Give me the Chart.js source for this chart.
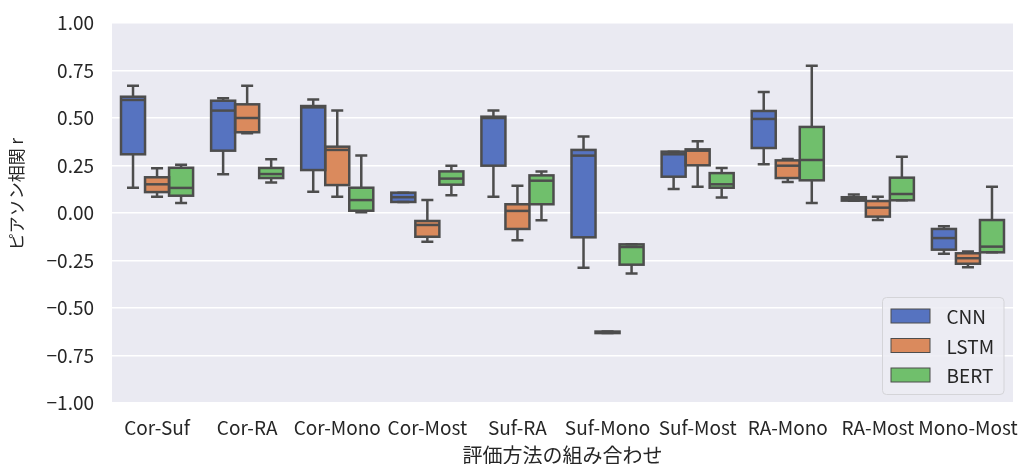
<!DOCTYPE html>
<html>
<head>
<meta charset="utf-8">
<script src="https://cdn.jsdelivr.net/npm/chart.js@4/dist/chart.umd.min.js"></script>
<style>
  html, body { margin: 0; padding: 0; background: #ffffff; }
  canvas { display: block; }
</style>
</head>
<body>
<canvas id="c" width="1022" height="464" style="width:1022px;height:464px"></canvas>
<script>
// Pairs of evaluation methods on the x axis
const categories = ['Cor-Suf', 'Cor-RA', 'Cor-Mono', 'Cor-Most', 'Suf-RA', 'Suf-Mono', 'Suf-Most', 'RA-Mono', 'RA-Most', 'Mono-Most'];
const seriesNames = ['CNN', 'LSTM', 'BERT'];

// Five-number summaries per pair: [min, q1, median, q3, max]
const cnn = [
  [0.133, 0.309, 0.595, 0.612, 0.670],
  [0.204, 0.328, 0.539, 0.591, 0.604],
  [0.112, 0.226, 0.556, 0.563, 0.598],
  [0.058, 0.058, 0.083, 0.107, 0.107],
  [0.086, 0.249, 0.500, 0.507, 0.539],
  [-0.288, -0.128, 0.302, 0.332, 0.402],
  [0.126, 0.191, 0.309, 0.323, 0.323],
  [0.256, 0.342, 0.495, 0.537, 0.637],
  [0.065, 0.065, 0.074, 0.083, 0.097],
  [-0.214, -0.193, -0.132, -0.084, -0.070]
];
const lstm = [
  [0.086, 0.110, 0.151, 0.188, 0.235],
  [0.420, 0.425, 0.500, 0.572, 0.670],
  [0.086, 0.147, 0.332, 0.349, 0.539],
  [-0.151, -0.125, -0.063, -0.042, 0.068],
  [-0.144, -0.084, 0.011, 0.046, 0.144],
  [-0.632, -0.632, -0.628, -0.624, -0.624],
  [0.138, 0.251, 0.328, 0.335, 0.377],
  [0.163, 0.184, 0.249, 0.277, 0.284],
  [-0.037, -0.019, 0.028, 0.063, 0.086],
  [-0.286, -0.267, -0.238, -0.212, -0.202]
];
const bert = [
  [0.053, 0.091, 0.132, 0.238, 0.254],
  [0.160, 0.184, 0.205, 0.237, 0.283],
  [0.004, 0.012, 0.068, 0.133, 0.302],
  [0.093, 0.149, 0.181, 0.219, 0.249],
  [-0.038, 0.046, 0.170, 0.198, 0.218],
  [-0.319, -0.272, -0.179, -0.165, -0.165],
  [0.081, 0.133, 0.151, 0.210, 0.237],
  [0.053, 0.172, 0.279, 0.453, 0.775],
  [0.067, 0.067, 0.100, 0.186, 0.296],
  [-0.207, -0.207, -0.177, -0.037, 0.138]
];

const yTitle = 'ピアソン相関 r';
const xTitle = '評価方法の組み合わせ';

const seriesColors = ['#5673c0', '#da8a5d', '#70bf6c'];
const lineColor = '#4d4d4d';
const textColor = '#262626';
const fontFamily = "'Noto Sans CJK JP', 'Noto Sans', sans-serif";
const summaries = [cnn, lstm, bert];

// Boxes are floating bars from q1 to q3; whiskers, caps, outlines and medians are added by a plugin
const datasets = seriesNames.map((name, i) => ({
  label: name,
  data: summaries[i].map(s => [s[1], s[3]]),
  stats: summaries[i],
  backgroundColor: seriesColors[i],
  borderWidth: 0,
  categoryPercentage: 0.8,
  barPercentage: 1.0
}));

const plotBackground = {
  id: 'plotBackground',
  beforeDraw(chart) {
    const { ctx, chartArea: a } = chart;
    ctx.save();
    ctx.fillStyle = '#eaeaf2';
    ctx.fillRect(a.left, a.top, a.right - a.left, a.bottom - a.top);
    ctx.restore();
  }
};

const boxWhiskers = {
  id: 'boxWhiskers',
  afterDatasetsDraw(chart) {
    const { ctx } = chart;
    const ys = chart.scales.y;
    ctx.save();
    ctx.strokeStyle = lineColor;
    ctx.lineWidth = 2.5;
    ctx.lineCap = 'butt';
    chart.data.datasets.forEach((ds, di) => {
      const meta = chart.getDatasetMeta(di);
      meta.data.forEach((bar, j) => {
        const [mn, q1, med, q3, mx] = ds.stats[j];
        const x = bar.x;
        const w = bar.width;
        const yMin = ys.getPixelForValue(mn);
        const yQ1 = ys.getPixelForValue(q1);
        const yMed = ys.getPixelForValue(med);
        const yQ3 = ys.getPixelForValue(q3);
        const yMax = ys.getPixelForValue(mx);
        ctx.beginPath();
        // whiskers
        ctx.moveTo(x, yQ3); ctx.lineTo(x, yMax);
        ctx.moveTo(x, yQ1); ctx.lineTo(x, yMin);
        // caps
        ctx.moveTo(x - w / 4, yMax); ctx.lineTo(x + w / 4, yMax);
        ctx.moveTo(x - w / 4, yMin); ctx.lineTo(x + w / 4, yMin);
        ctx.stroke();
        // box outline
        ctx.strokeRect(x - w / 2, yQ3, w, yQ1 - yQ3);
        // median
        ctx.beginPath();
        ctx.moveTo(x - w / 2, yMed); ctx.lineTo(x + w / 2, yMed);
        ctx.stroke();
      });
    });
    ctx.restore();
  }
};

// Legend in the lower-right corner of the plot, plus the rotated y-axis title
const boxLegend = {
  id: 'boxLegend',
  afterDraw(chart) {
    const { ctx, chartArea: a } = chart;
    const x0 = a.right - 130.5, y0 = a.bottom - 105.5, w = 121.5, h = 97;
    ctx.save();
    ctx.beginPath();
    ctx.roundRect(x0, y0, w, h, 4);
    ctx.fillStyle = 'rgba(236,236,243,0.85)';
    ctx.fill();
    ctx.strokeStyle = '#d4d4d8';
    ctx.lineWidth = 1;
    ctx.stroke();
    ctx.font = '19px ' + fontFamily;
    ctx.textBaseline = 'middle';
    ctx.textAlign = 'left';
    seriesNames.forEach((name, i) => {
      const cy = y0 + 18.5 + i * 29.5;
      ctx.fillStyle = seriesColors[i];
      ctx.fillRect(x0 + 8.5, cy - 7, 39, 14);
      ctx.strokeStyle = lineColor;
      ctx.lineWidth = 1;
      ctx.strokeRect(x0 + 8.5, cy - 7, 39, 14);
      ctx.fillStyle = textColor;
      ctx.fillText(name, x0 + 64, cy + 1);
    });

    ctx.translate(17, (a.top + a.bottom) / 2 - 19);
    ctx.rotate(-Math.PI / 2);
    ctx.font = '17px ' + fontFamily;
    ctx.textAlign = 'center';
    ctx.fillText(yTitle, 0, 0);
    ctx.restore();
  }
};

new Chart(document.getElementById('c'), {
  type: 'bar',
  data: { labels: categories, datasets },
  options: {
    responsive: false,
    animation: false,
    layout: { autoPadding: false, padding: { top: 23, right: 9, left: 0, bottom: 0 } },
    plugins: { legend: { display: false }, tooltip: { enabled: false } },
    scales: {
      x: {
        grid: { display: false, drawTicks: true, tickLength: 13 },
        border: { display: false },
        ticks: { color: textColor, font: { family: fontFamily, size: 19 }, padding: 0, maxRotation: 0, autoSkip: false },
        title: { display: true, text: xTitle, color: textColor, font: { family: fontFamily, size: 20 }, padding: { top: 0, bottom: -3 } },
        afterFit(scale) { scale.height = 61; }
      },
      y: {
        min: -1,
        max: 1,
        grid: { color: '#ffffff', lineWidth: 1.5, drawTicks: true, tickLength: 18, tickColor: 'rgba(0,0,0,0)' },
        border: { display: false },
        ticks: {
          stepSize: 0.25,
          color: textColor,
          font: { family: fontFamily, size: 19 },
          padding: 0,
          callback: v => v.toFixed(2).replace('-', '\u2212')
        },
        afterFit(scale) { scale.width = 112; }
      }
    }
  },
  plugins: [plotBackground, boxWhiskers, boxLegend]
});
</script>
</body>
</html>
